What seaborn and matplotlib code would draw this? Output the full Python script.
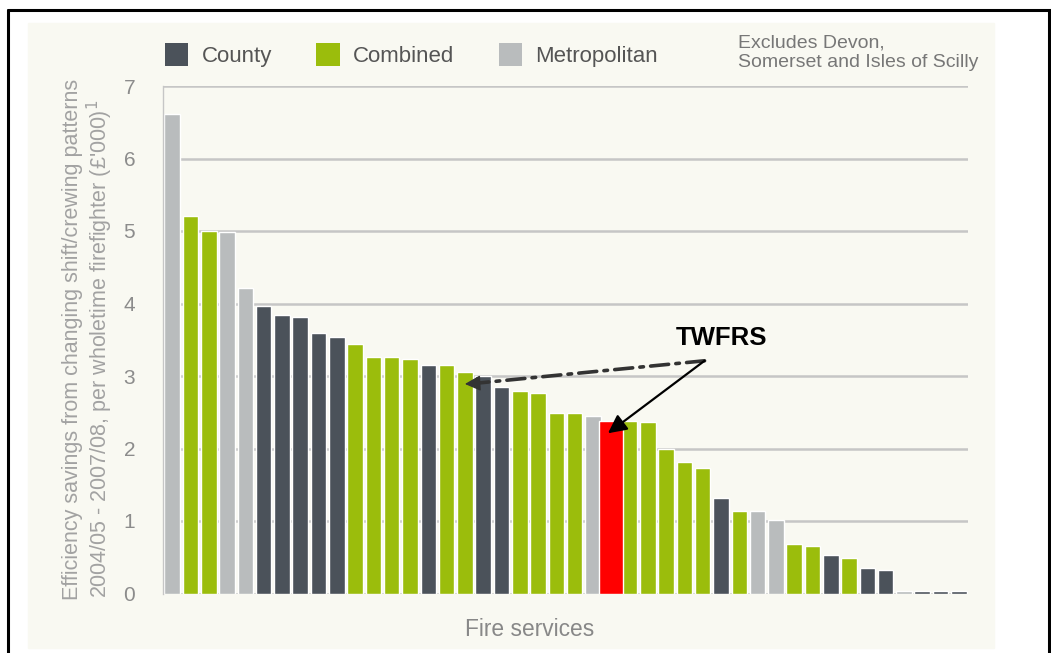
import pandas as pd
import numpy as np
import matplotlib.pyplot as plt
import seaborn as sns
from matplotlib.patches import Patch, Rectangle
from matplotlib.lines import Line2D

# values (£'000 per wholetime firefighter)
savings = [6.62, 5.21, 5.00, 4.99, 4.22, 3.96, 3.84, 3.81, 3.60, 3.54,
           3.44, 3.26, 3.26, 3.23, 3.15, 3.15, 3.06, 3.00, 2.85, 2.79,
           2.77, 2.49, 2.49, 2.45, 2.38, 2.38, 2.36, 1.99, 1.81, 1.73,
           1.32, 1.14, 1.14, 1.01, 0.68, 0.65, 0.53, 0.49, 0.35, 0.32,
           0.04, 0.03, 0.03, 0.03]
kinds = ["Metropolitan", "Combined", "Combined", "Metropolitan", "Metropolitan",
         "County", "County", "County", "County", "County",
         "Combined", "Combined", "Combined", "Combined", "County",
         "Combined", "Combined", "County", "County", "Combined",
         "Combined", "Combined", "Combined", "Metropolitan", "Metropolitan",
         "Combined", "Combined", "Combined", "Combined", "Combined",
         "County", "Combined", "Metropolitan", "Metropolitan", "Combined",
         "Combined", "County", "Combined", "County", "County",
         "Metropolitan", "County", "County", "County"]
services = [f"FRS {i + 1}" for i in range(len(savings))]
highlight = "FRS 25"
yticks = [0, 1, 2, 3, 4, 5, 6, 7]
legend_order = ["County", "Combined", "Metropolitan"]

palette = {"County": "#4b525a", "Combined": "#9bbd0c", "Metropolitan": "#b9bcbd"}
cream = "#f9f9f2"

df = pd.DataFrame({"service": services, "saving": savings, "type": kinds})

sns.set_theme(style="white")
plt.rcParams["font.family"] = ["Liberation Sans", "DejaVu Sans"]

W, H = 1051, 653
fig = plt.figure(figsize=(W / 100, H / 100), dpi=100)
fig.patch.set_facecolor("white")

# cream panel and black frame
fig.patches.append(Rectangle((28 / W, 1 - 648 / H), (994 - 28) / W, (648 - 23) / H,
                             transform=fig.transFigure, color=cream, zorder=-10))
for xs, ys in [([8, 8], [10, 653]), ([8, 1051], [10, 10]), ([1049, 1049], [10, 653])]:
    fig.add_artist(Line2D([x / W for x in xs], [1 - y / H for y in ys],
                          color="black", lw=2.2, transform=fig.transFigure))

ax = fig.add_axes([163 / W, 1 - 593.5 / H, (968 - 163) / W, (593.5 - 86) / H])
ax.set_zorder(2)
ax.set_facecolor(cream)

sns.barplot(data=df, x="service", y="saving", hue="type", palette=palette,
            dodge=False, width=0.85, saturation=1, legend=False, ax=ax)

# TWFRS drawn in red, a little wider than the rest
hi = services.index(highlight)
ax.bar(hi, df.loc[hi, "saving"], width=1.3, color="#ff0000", zorder=3)

ax.set_xlim(-0.5, len(services) - 0.5)
ax.set_ylim(0, 7)
ax.set_yticks(yticks)
ax.set_xticks([])
ax.set_xlabel("")
ax.set_ylabel("")
ax.yaxis.grid(True, color="#c6c6c6", lw=1.8)
ax.set_axisbelow(True)
for s in ["top", "right", "bottom"]:
    ax.spines[s].set_visible(False)
ax.spines["left"].set_color("#c6c6c6")
ax.spines["left"].set_linewidth(1)
ax.tick_params(axis="y", length=0, pad=20, labelsize=15, labelcolor="#8c8c8c")

# axis titles
fig.text(73 / W, 1 - 600 / H, "Efficiency savings from changing shift/crewing patterns",
         rotation=90, ha="center", va="bottom", fontsize=15.5, color="#a2a2a2")
fig.text(100 / W, 1 - 598 / H, "2004/05 - 2007/08, per wholetime firefighter (£'000)$^1$",
         rotation=90, ha="center", va="bottom", fontsize=15.5, color="#a2a2a2")
fig.text(530 / W, 1 - 630 / H, "Fire services", ha="center", va="center",
         fontsize=16.4, color="#888888")

# legend and note
handles = [Patch(facecolor=palette[k], edgecolor="none", label=k) for k in legend_order]
fig.legend(handles=handles, loc="center left", bbox_to_anchor=(145 / W, 1 - 55 / H),
           ncol=3, frameon=False, fontsize=16, handlelength=1.05, handleheight=1.25,
           handletextpad=0.6, columnspacing=2.0, labelcolor="#555555")
fig.text(738 / W, 1 - 35 / H, "Excludes Devon,\nSomerset and Isles of Scilly",
         ha="left", va="top", fontsize=14, color="#777777", linespacing=1.15)

# TWFRS callout
ax.text(30.05, 3.52, "TWFRS", ha="center", va="center", fontsize=18.5,
        fontweight="bold", color="black")
ax.annotate("", xy=(16.6, 2.9), xytext=(29.1, 3.21),
            arrowprops=dict(arrowstyle="-", color="#333333", lw=2.6,
                            linestyle=(0, (5, 2, 1, 2)), shrinkA=0, shrinkB=0))
ax.annotate("", xy=(16.0, 2.89), xytext=(16.7, 2.9),
            arrowprops=dict(arrowstyle="-|>", color="#333333", lw=1,
                            mutation_scale=24, shrinkA=0, shrinkB=0))
ax.annotate("", xy=(23.82, 2.21), xytext=(29.1, 3.21),
            arrowprops=dict(arrowstyle="-|>", color="black", lw=1.6,
                            mutation_scale=28, shrinkA=0, shrinkB=0))

fig.savefig("out.png", dpi=100)
